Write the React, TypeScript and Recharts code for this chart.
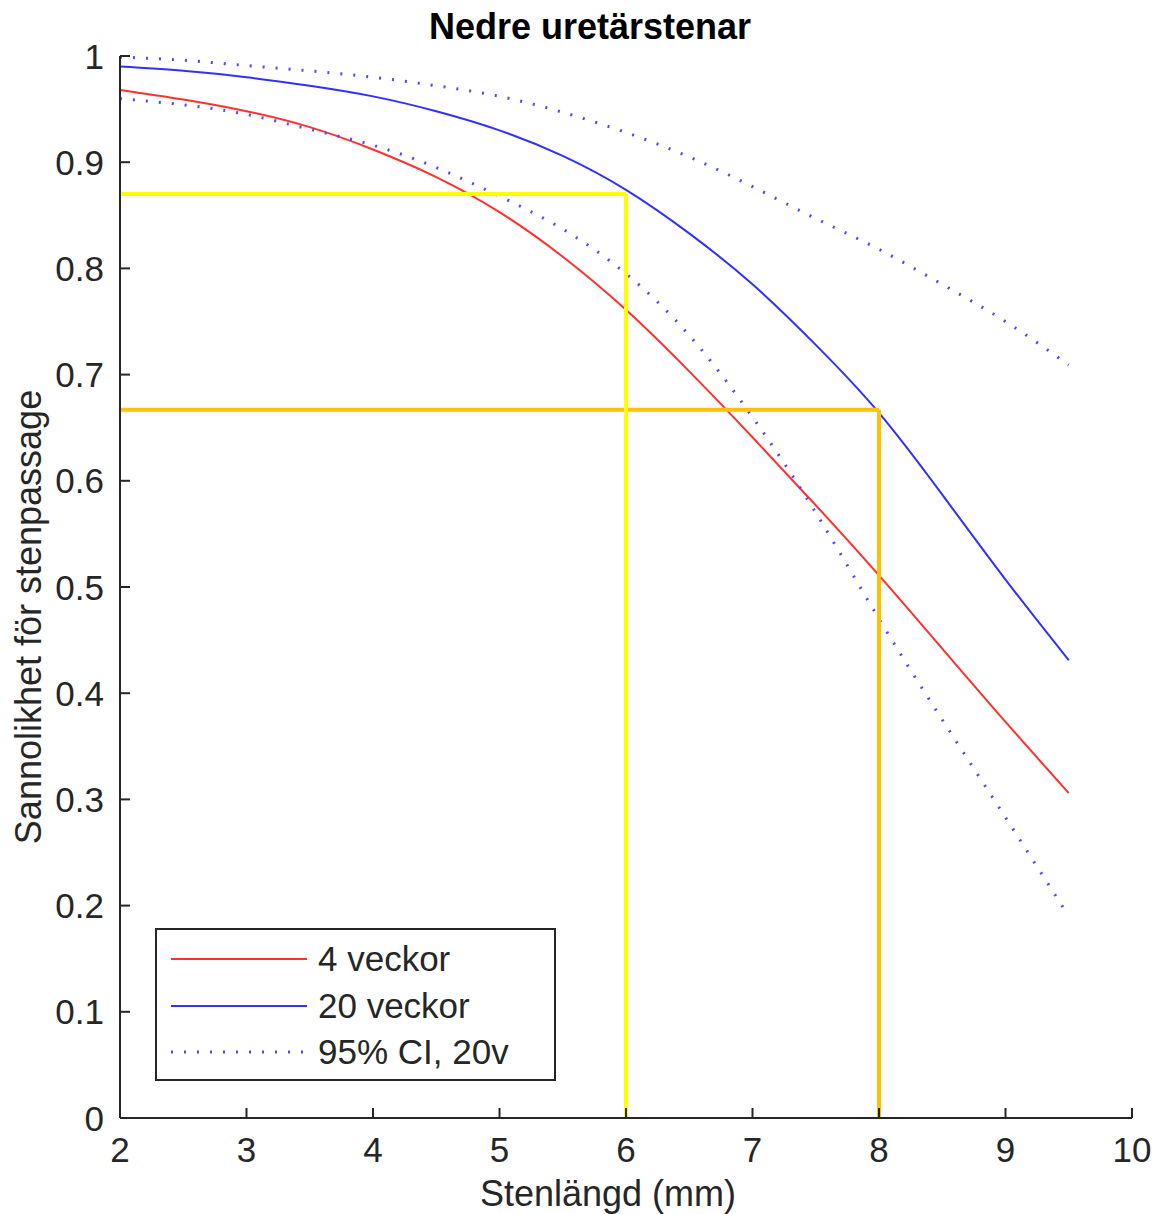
import React from 'react';
import { LineChart, Line, XAxis, YAxis, ReferenceLine, Legend, Label } from 'recharts';

// stone length (mm)
const stoneLength = [2, 2.5, 3, 3.5, 4, 4.5, 5, 5.5, 6, 6.5, 7, 7.5, 8, 8.5, 9, 9.5];
// probability of passage
const weeks4 = [0.968, 0.959, 0.948, 0.933, 0.912, 0.886, 0.853, 0.811, 0.761, 0.703, 0.641, 0.577, 0.511, 0.442, 0.373, 0.306];
const weeks20 = [0.99, 0.986, 0.98, 0.972, 0.962, 0.948, 0.93, 0.906, 0.874, 0.833, 0.785, 0.728, 0.664, 0.587, 0.507, 0.431];
const ciUpper20 = [0.999, 0.996, 0.991, 0.986, 0.98, 0.972, 0.962, 0.947, 0.928, 0.905, 0.877, 0.847, 0.818, 0.785, 0.75, 0.709];
const ciLower20 = [0.96, 0.954, 0.945, 0.931, 0.916, 0.895, 0.868, 0.837, 0.795, 0.737, 0.66, 0.57, 0.47, 0.375, 0.283, 0.19];

const xTicks = [2, 3, 4, 5, 6, 7, 8, 9, 10];
const yTicks = [0, 0.1, 0.2, 0.3, 0.4, 0.5, 0.6, 0.7, 0.8, 0.9, 1];

// guide lines: [x, y, colour]
const guides: [number, number, string][] = [
  [6, 0.87, '#ffff00'],
  [8, 0.667, '#ffc000'],
];

const data = stoneLength.map((x, i) => ({
  x,
  w4: weeks4[i],
  w20: weeks20[i],
  hi: ciUpper20[i],
  lo: ciLower20[i],
}));

const FONT = '"Liberation Sans", Arial, sans-serif';
const INK = '#262626';
const RED = '#ff3030';
const BLUE = '#3030ff';
const DOT = '#4a4aff';
const FS = 35;

const YTick = (props: any) => {
  const { x, y, payload } = props;
  return (
    <g>
      <line x1={x} x2={x + 10} y1={y} y2={y} stroke={INK} strokeWidth={2} />
      <text x={x - 16} y={y} textAnchor="end" dominantBaseline="central" fontSize={FS} fill={INK} fontFamily={FONT}>
        {String(Math.round(payload.value * 10) / 10)}
      </text>
    </g>
  );
};

const XTick = (props: any) => {
  const { x, y, payload } = props;
  return (
    <g>
      <line x1={x} x2={x} y1={y} y2={y - 10} stroke={INK} strokeWidth={2} />
      <text x={x} y={y + 31} textAnchor="middle" dominantBaseline="central" fontSize={FS} fill={INK} fontFamily={FONT}>
        {payload.value}
      </text>
    </g>
  );
};

const legendItems = [
  { label: '4 veckor', color: RED, dash: undefined },
  { label: '20 veckor', color: BLUE, dash: undefined },
  { label: '95% CI, 20v', color: DOT, dash: '2 11' },
];

const LegendBox = () => (
  <div
    style={{
      width: 401,
      height: 153,
      boxSizing: 'border-box',
      border: `2px solid ${INK}`,
      background: '#fff',
      position: 'relative',
      fontFamily: FONT,
      fontSize: FS,
      color: INK,
    }}
  >
    {legendItems.map((it, i) => (
      <div key={it.label} style={{ position: 'absolute', left: 0, top: 29 + i * 46.5 - 20, height: 40, width: '100%' }}>
        <svg width={150} height={40} style={{ position: 'absolute', left: 0, top: 0 }}>
          <line x1={14} x2={150} y1={20} y2={20} stroke={it.color} strokeWidth={it.dash ? 3 : 2} strokeDasharray={it.dash} />
        </svg>
        <span style={{ position: 'absolute', left: 161, top: 0, lineHeight: '40px', whiteSpace: 'nowrap' }}>{it.label}</span>
      </div>
    ))}
  </div>
);

export default function App() {
  return (
    <div style={{ position: 'absolute', left: 0, top: 0, width: 1155, height: 1214, background: '#fff' }}>
      <div
        style={{
          position: 'absolute',
          left: 0,
          width: 1180,
          top: 8,
          textAlign: 'center',
          fontFamily: FONT,
          fontWeight: 'bold',
          fontSize: 36,
          color: '#000',
          lineHeight: '38px',
        }}
      >
        Nedre uretärstenar
      </div>
      <LineChart width={1155} height={1214} data={data} margin={{ top: 56, right: 23, bottom: 0, left: 0 }}>
        <XAxis
          dataKey="x"
          type="number"
          domain={[2, 10]}
          ticks={xTicks}
          height={96}
          tickSize={0}
          tickMargin={0}
          tickLine={false}
          tick={<XTick />}
          axisLine={{ stroke: INK, strokeWidth: 2 }}
          allowDataOverflow
        >
          <Label
            content={() => (
              <text x={608} y={1193} textAnchor="middle" dominantBaseline="central" fontSize={36} fill={INK} fontFamily={FONT}>
                Stenlängd (mm)
              </text>
            )}
          />
        </XAxis>
        <YAxis
          type="number"
          domain={[0, 1]}
          ticks={yTicks}
          width={120}
          tickSize={0}
          tickMargin={0}
          tickLine={false}
          tick={<YTick />}
          axisLine={{ stroke: INK, strokeWidth: 2 }}
          allowDataOverflow
        >
          <Label
            content={() => (
              <text
                transform="translate(28,617) rotate(-90)"
                textAnchor="middle"
                dominantBaseline="central"
                fontSize={36}
                fill={INK}
                fontFamily={FONT}
              >
                Sannolikhet för stenpassage
              </text>
            )}
          />
        </YAxis>
        <Line type="natural" dataKey="w4" stroke={RED} strokeWidth={2} dot={false} isAnimationActive={false} />
        <Line type="natural" dataKey="w20" stroke={BLUE} strokeWidth={2} dot={false} isAnimationActive={false} />
        <Line type="natural" dataKey="hi" stroke={DOT} strokeWidth={3} strokeDasharray="2 11" dot={false} isAnimationActive={false} />
        <Line type="natural" dataKey="lo" stroke={DOT} strokeWidth={3} strokeDasharray="2 11" dot={false} isAnimationActive={false} />
        {guides.map(([gx, gy, c]) => (
          <ReferenceLine
            key={`h${gx}`}
            segment={[{ x: 2, y: gy }, { x: gx, y: gy }]}
            stroke={c}
            strokeWidth={4}
          />
        ))}
        {guides.map(([gx, gy, c]) => (
          <ReferenceLine
            key={`v${gx}`}
            segment={[{ x: gx, y: 0 }, { x: gx, y: gy }]}
            stroke={c}
            strokeWidth={4}
          />
        ))}
        <Legend
          layout="vertical"
          align="center"
          verticalAlign="middle"
          wrapperStyle={{ left: 155, top: 928, width: 401, height: 153 }}
          content={<LegendBox />}
        />
      </LineChart>
    </div>
  );
}
